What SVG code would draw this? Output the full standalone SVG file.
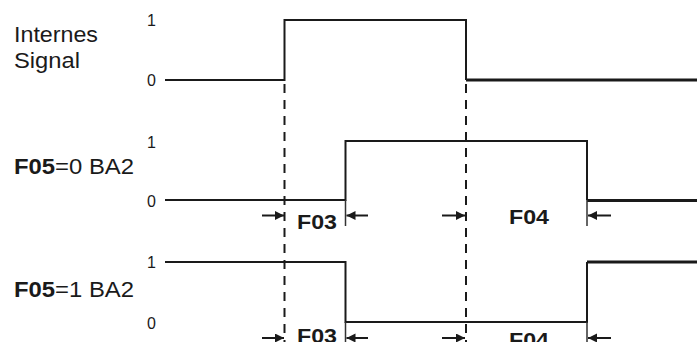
<svg xmlns="http://www.w3.org/2000/svg" width="697" height="342" viewBox="0 0 697 342">
<defs>
<style>
.lbl{font-family:"Liberation Sans",Arial,sans-serif;font-size:22px;fill:#1a1a1a}
.num{font-family:"Liberation Sans",Arial,sans-serif;font-size:16px;fill:#1a1a1a;text-anchor:end}
.b{font-weight:bold}
.tag{font-family:"Liberation Sans",Arial,sans-serif;font-size:21px;font-weight:bold;fill:#1a1a1a}
.sig{fill:none;stroke:#1a1a1a;stroke-width:2}
.thick{fill:none;stroke:#1a1a1a;stroke-width:3}
.dash{fill:none;stroke:#1a1a1a;stroke-width:2;stroke-dasharray:9 7}
.tick{fill:none;stroke:#333;stroke-width:1.5}
.arr{fill:none;stroke:#1a1a1a;stroke-width:2;marker-end:url(#ah)}
</style>
<marker id="ah" markerWidth="10" markerHeight="10" refX="9" refY="4.5" orient="auto" markerUnits="userSpaceOnUse">
<path d="M0,0 L9,4.5 L0,9 Z" fill="#1a1a1a"/>
</marker>
</defs>
<g id="labels">
<text class="lbl" x="14" y="42" textLength="84" lengthAdjust="spacingAndGlyphs">Internes</text>
<text class="lbl" x="14" y="68" textLength="66" lengthAdjust="spacingAndGlyphs">Signal</text>
<text class="lbl" x="14" y="174" textLength="120" lengthAdjust="spacingAndGlyphs"><tspan class="b">F05</tspan>=0 BA2</text>
<text class="lbl" x="14" y="297" textLength="120" lengthAdjust="spacingAndGlyphs"><tspan class="b">F05</tspan>=1 BA2</text>
<text class="num" x="156" y="26">1</text>
<text class="num" x="156" y="86">0</text>
<text class="num" x="156" y="148">1</text>
<text class="num" x="156" y="207">0</text>
<text class="num" x="156" y="268">1</text>
<text class="num" x="156" y="329">0</text>
</g>
<g id="signal-internal">
<path class="sig" d="M165,80 H284.5 V20 H466 V80"/>
<path class="thick" d="M466,80 H697"/>
</g>
<g id="signal-f05-0">
<path class="sig" d="M165,200 H345.5 V141 H587 V200"/>
<path class="thick" d="M587,200.5 H697"/>
</g>
<g id="signal-f05-1">
<path class="sig" d="M165,262 H345.5 V322 H587 V262"/>
<path class="thick" d="M587,262 H697"/>
</g>
<g id="connectors">
<path class="dash" d="M284.5,84 V342"/>
<path class="dash" d="M466,84 V342"/>
<path class="tick" d="M345.5,200 V226 M587,200 V226 M345.5,322 V342 M587,322 V342"/>
<path class="arr" d="M262,215.5 H284"/>
<path class="arr" d="M368,215.5 H346.5"/>
<path class="arr" d="M442,215.5 H465"/>
<path class="arr" d="M611,215.5 H588"/>
<path class="arr" d="M262,338 H284"/>
<path class="arr" d="M368,338 H346.5"/>
<path class="arr" d="M442,338 H465"/>
<path class="arr" d="M611,338 H588"/>
</g>
<g id="tags">
<text class="tag" x="297" y="229" textLength="40" lengthAdjust="spacingAndGlyphs">F03</text>
<text class="tag" x="509" y="224" textLength="40" lengthAdjust="spacingAndGlyphs">F04</text>
<text class="tag" x="297" y="343" textLength="40" lengthAdjust="spacingAndGlyphs">F03</text>
<text class="tag" x="509" y="347" textLength="40" lengthAdjust="spacingAndGlyphs">F04</text>
</g>
</svg>
